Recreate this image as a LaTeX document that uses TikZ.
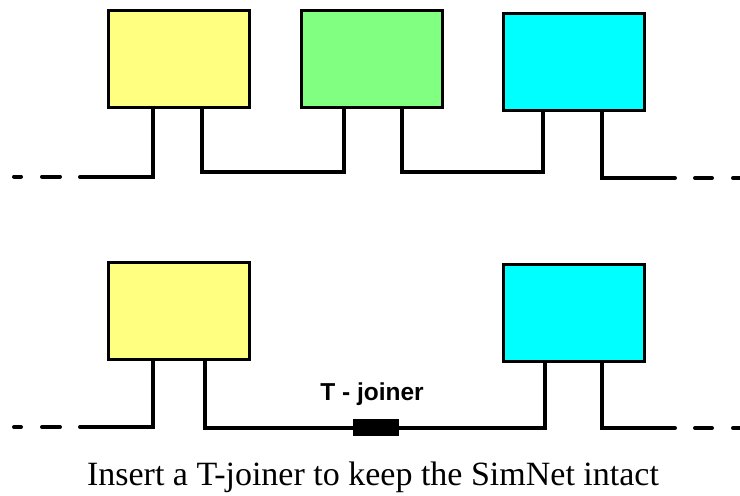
\documentclass[tikz,border=0pt]{standalone}
\usepackage{fontspec}
\setmainfont{Liberation Serif}
\newfontfamily\arialfont{Liberation Sans}
\definecolor{boxyellow}{HTML}{FFFF80}
\definecolor{boxgreen}{HTML}{80FF80}
\definecolor{boxcyan}{HTML}{00FFFF}
\begin{document}
\begin{tikzpicture}[x=1pt,y=-1pt,
  box/.style={draw=black, line width=3pt, minimum width=141pt, minimum height=97pt, inner sep=0pt, anchor=center},
  wire/.style={line width=4pt, line join=miter, line cap=round},
  dsh/.style={line width=4pt, line cap=round},
  joiner/.style={fill=black, draw=none, minimum width=46pt, minimum height=17pt, inner sep=0pt}]
\useasboundingbox (0,0) rectangle (740,496);
% leg x positions
\coordinate (xa) at (153,0);
\coordinate (xb) at (202,0);
\coordinate (xc) at (344,0);
\coordinate (xd) at (402,0);
\coordinate (xe) at (543,0);
\coordinate (xf) at (602,0);
\coordinate (xg) at (205,0);
\coordinate (xh) at (545,0);
% wire ends / bends
\coordinate (tl) at (80,177);
\coordinate (tm1) at (0,172);
\coordinate (tm2) at (0,172);
\coordinate (tr) at (675,178);
\coordinate (bl) at (80,427);
\coordinate (br) at (675,428);
% boxes (nodes) placed first so wires can refer to them
\node[box, fill=boxyellow] (ya) at (179,59) {};
\node[box, fill=boxgreen] (ga) at (372,59) {};
\node[box, fill=boxcyan] (ca) at (574,61.5) {};
\node[box, fill=boxyellow] (yb) at (179,310.5) {};
\node[box, fill=boxcyan] (cb) at (573.5,313) {};
\node[joiner] (tj) at (376,427.5) {};
% top wires
\draw[wire] (ya.south -| xa) |- (tl);
\draw[wire] (ya.south -| xb) |- (tm1 -| xc) -- (ga.south -| xc);
\draw[wire] (ga.south -| xd) |- (tm2 -| xe) -- (ca.south -| xe);
\draw[wire] (ca.south -| xf) |- (tr);
% bottom wires
\draw[wire] (yb.south -| xa) |- (bl);
\draw[wire] (yb.south -| xg) |- (tj.west);
\draw[wire] (tj.east) -| (cb.south -| xh);
\draw[wire] (cb.south -| xf) |- (br);
% dashes
\draw[dsh] (14,176.5) -- (21,176.5);
\draw[dsh] (42,176.5) -- (60,176.5);
\draw[dsh] (695,178) -- (712,178);
\draw[dsh] (733,178) -- (745,178);
\draw[dsh] (14,427) -- (21,427);
\draw[dsh] (42,427) -- (60,427);
\draw[dsh] (695,428) -- (712,428);
\draw[dsh] (733,428) -- (745,428);
% redraw boxes on top of wire ends
\node[box, fill=boxyellow] at (ya) {};
\node[box, fill=boxgreen] at (ga) {};
\node[box, fill=boxcyan] at (ca) {};
\node[box, fill=boxyellow] at (yb) {};
\node[box, fill=boxcyan] at (cb) {};
% labels
\node[font=\arialfont\bfseries\fontsize{24.5}{28}\selectfont, inner sep=0pt, anchor=base] (tjl) at (372,400) {T - joiner};
\node[font=\fontsize{34}{40}\selectfont, inner sep=0pt, anchor=base] (cap) at (373,485.5) {Insert a T-joiner to keep the SimNet intact};
\end{tikzpicture}
\end{document}
